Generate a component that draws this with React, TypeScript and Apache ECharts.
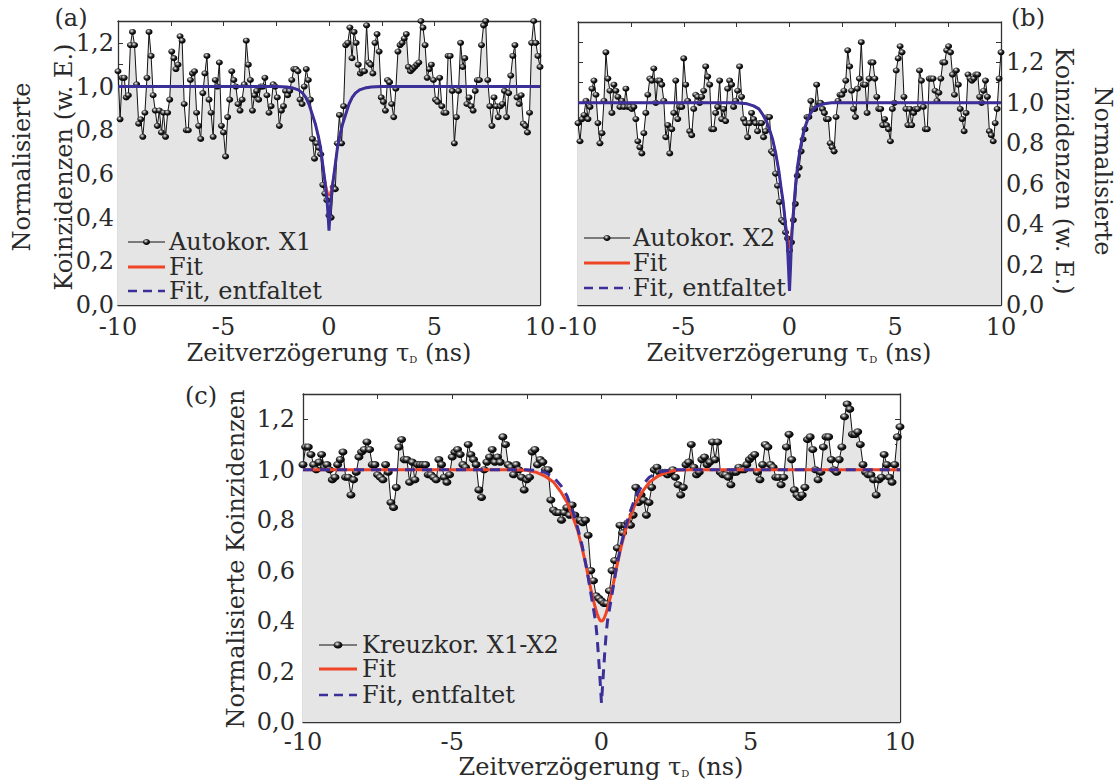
import React, { useEffect, useRef } from "react";
import * as echarts from "echarts";

// ---------- data: panel (a) Autokorrelation X1 ----------
const aNeg = [
  1.07, 0.85, 1.04, 1.04, 0.95, 0.96, 1.19, 1.25, 1.19, 1.01,
  0.83, 0.85, 0.77, 0.88, 1.04, 1.25, 1.14, 0.96, 0.89, 0.82,
  0.89, 0.79, 0.88, 0.77, 0.88, 0.94, 1.16, 1.13, 1.08, 1.10,
  1.23, 1.21, 0.92, 0.80, 0.80, 1.03, 1.06, 1.07, 0.88, 0.82,
  0.76, 0.97, 1.06, 1.14, 0.94, 0.88, 0.77, 1.03, 1.00, 1.11,
  0.82, 0.79, 0.68, 0.86, 0.94, 1.07, 1.03, 1.00, 0.92, 0.89,
  0.94, 1.01, 1.21, 1.10, 1.03, 0.89, 0.96, 0.98, 0.94, 1.00,
  1.00, 1.04, 0.96, 0.88, 0.91, 1.01, 1.00, 0.95, 0.82, 0.89,
  0.91, 0.98, 0.96, 0.98, 1.03, 1.08, 1.08, 1.07, 0.94, 0.92,
  1.00, 1.08, 1.03, 0.94,
  0.76, 0.67, 0.74, 0.72, 0.69, 0.55, 0.51, 0.48,
];
const aZero = 0.41;
const aPos = [
  0.40, 0.54, 0.53, 0.74, 0.87, 0.74, 0.91,
  1.19, 1.20, 1.27, 1.13, 1.25, 1.20, 1.10, 1.06, 1.07, 1.07,
  1.28, 1.11, 1.10, 1.06, 1.20, 1.24, 1.16, 0.95, 0.93, 0.89,
  1.03, 1.02, 0.92, 0.86, 0.99, 1.16, 1.19, 1.20, 1.22, 1.24,
  1.09, 1.07, 1.08, 1.09, 1.10, 1.11, 1.30, 1.27, 1.19, 1.04,
  1.08, 1.10, 1.03, 0.94, 0.93, 1.04, 0.91, 0.88, 0.88, 1.14,
  1.14, 0.98, 0.74, 0.86, 0.98, 1.20, 1.09, 1.13, 0.92, 0.95,
  0.91, 0.89, 0.98, 1.03, 1.03, 1.19, 1.28, 1.30, 1.03, 0.91,
  0.82, 0.95, 0.91, 0.86, 0.91, 0.92, 0.98, 0.86, 0.97, 1.05,
  1.14, 1.19, 0.95, 0.92, 0.96, 0.83, 0.82, 0.79, 0.88, 1.20,
  1.30, 1.20, 1.14, 1.09,
];

// ---------- data: panel (b) Autokorrelation X2 ----------
const bNeg = [
  0.90, 0.81, 0.92, 0.94, 1.01, 0.92, 0.98, 1.07, 1.11, 1.04,
  0.90, 0.80, 0.85, 1.01, 1.25, 1.12, 1.06, 0.95, 1.09, 1.06,
  1.03, 0.98, 1.01, 0.98, 1.07, 0.98, 0.98, 0.97, 0.98, 0.92,
  0.81, 0.78, 0.75, 0.85, 0.95, 1.04, 1.12, 1.11, 1.17, 1.00,
  1.11, 1.11, 1.09, 1.01, 0.83, 0.89, 0.75, 0.87, 0.95, 1.11,
  0.92, 0.98, 0.98, 1.22, 1.09, 1.01, 0.86, 0.84, 0.97, 1.04,
  1.03, 1.00, 1.03, 1.06, 1.18, 1.13, 1.09, 0.87, 0.87, 0.95,
  0.98, 1.11, 0.92, 0.97, 0.91, 1.07, 1.11, 1.09, 0.98, 1.01,
  1.06, 1.18, 1.03, 0.92, 0.90, 0.83, 0.90, 0.95, 0.92, 0.90,
  0.86, 0.90, 0.90, 0.83, 0.86, 0.93, 0.93, 0.76, 0.75,
  0.65, 0.59, 0.51, 0.42, 0.41, 0.36, 0.33,
];
const bZero = 0.27;
const bPos = [
  0.31, 0.42, 0.50, 0.64, 0.68, 0.76, 0.82, 0.87, 0.93, 0.93,
  1.01, 0.97, 0.97, 1.09, 1.00, 1.00, 0.97, 0.95, 0.92, 0.92,
  0.80, 0.78, 0.76, 0.93, 1.01, 1.04, 1.04, 1.06, 1.11, 1.26,
  1.18, 1.06, 0.97, 0.93, 1.07, 1.12, 1.30, 1.09, 1.09, 0.95,
  1.12, 1.20, 1.20, 1.12, 1.03, 0.97, 0.97, 0.89, 0.92, 0.89,
  0.87, 0.81, 0.97, 1.00, 1.16, 1.22, 1.28, 1.25, 1.03, 0.97,
  0.89, 0.97, 0.89, 0.95, 0.97, 0.97, 1.16, 1.11, 0.98, 0.87,
  0.87, 1.12, 1.12, 1.12, 1.06, 1.01, 1.05, 1.12, 1.20, 1.20,
  1.26, 1.28, 1.25, 1.14, 1.04, 1.16, 1.09, 0.97, 0.92, 0.86,
  0.95, 1.14, 1.12, 1.11, 1.12, 1.14, 1.14, 1.03, 1.00, 1.06,
  1.11, 1.03, 0.86, 0.84, 0.81, 0.90, 0.97, 1.12, 1.25,
];

// ---------- data: panel (c) Kreuzkorrelation X1-X2 ----------
const cNeg = [
  1.02, 1.09, 1.09, 1.06, 1.02, 1.00, 1.03, 1.06, 1.01, 1.02,
  1.00, 0.96, 0.97, 1.02, 1.04, 1.07, 0.97, 0.97, 0.90, 0.96,
  0.99, 1.05, 1.07, 1.08, 1.11, 1.08, 1.02, 1.02, 0.98, 0.97,
  0.96, 1.02, 0.99, 0.87, 0.85, 0.93, 1.09, 1.12, 1.04, 1.04,
  0.95, 1.03, 0.96, 1.02, 1.02, 1.02, 1.02, 0.98, 0.98, 0.97,
  0.96, 1.04, 1.02, 0.97, 0.95, 0.98, 1.05, 1.07, 1.08, 1.06,
  1.02, 1.01, 1.10, 1.06, 1.04, 1.02, 0.92, 0.89,
  1.00, 1.03, 1.05, 1.08, 1.03, 1.05, 1.03, 1.13, 1.10, 1.02,
  1.01, 0.98, 1.02, 1.00, 0.97, 0.92, 0.96, 0.97, 1.07, 1.08,
  1.02, 1.04, 1.03, 1.00, 1.00, 0.88, 0.84, 0.83, 0.83, 0.80,
  0.83, 0.85, 0.82, 0.86, 0.82, 0.80, 0.80, 0.79, 0.80, 0.74,
  0.60, 0.56, 0.50, 0.49,
];
const cZero = 0.48;
const cPos = [
  0.47, 0.47, 0.52, 0.60, 0.64, 0.69, 0.78, 0.75, 0.78, 0.79,
  0.78, 0.82, 0.93, 0.87, 0.90, 0.88, 0.82, 0.87, 0.93, 1.00,
  1.01, 0.99, 0.99, 0.99, 0.98, 0.99, 1.00, 0.97, 0.94, 0.90,
  0.93, 1.02, 1.03, 1.10, 1.01, 0.98, 0.99, 1.04, 1.05, 1.02,
  1.03, 1.11,
  1.04, 1.11, 0.99, 0.98, 0.98, 0.97, 0.94, 0.99, 0.99, 1.01,
  1.00, 1.00, 1.02, 1.04, 1.05, 1.06, 0.99, 0.96, 1.02, 1.10,
  1.09, 1.02, 1.01, 0.97, 0.97, 0.94, 0.97, 1.09, 1.14, 1.04,
  0.92, 0.90, 0.89, 0.90, 0.93, 1.12, 1.13, 1.08, 1.00, 0.96,
  0.99, 1.09, 1.13, 1.13, 1.04, 1.00, 0.99, 1.04, 1.09, 1.21,
  1.26, 1.24, 1.14, 1.14, 1.15, 1.10, 1.02, 0.99, 0.98, 0.98,
  0.96, 0.90, 0.96, 0.97, 1.06, 1.02, 0.97, 0.95, 1.02, 1.13,
  1.17,
];

// ---------- fit curves ----------
const fitXab = [-10, -2.5, -2.0, -1.7, -1.45, -1.25, -1.1, -0.95, -0.8, -0.65, -0.5, -0.4, -0.3, -0.2, -0.1, -0.05, 0,
  0.05, 0.1, 0.2, 0.3, 0.4, 0.5, 0.65, 0.8, 0.95, 1.1, 1.25, 1.45, 1.7, 2.0, 2.5, 10];
const fitARed = [1.0, 1.0, 0.998, 0.993, 0.985, 0.97, 0.95, 0.92, 0.875, 0.83, 0.77, 0.72, 0.65, 0.58, 0.53, 0.51, 0.50,
  0.51, 0.53, 0.58, 0.65, 0.72, 0.77, 0.83, 0.875, 0.92, 0.95, 0.97, 0.985, 0.993, 0.998, 1.0, 1.0];
const fitABlue = [1.0, 1.0, 0.998, 0.993, 0.985, 0.97, 0.95, 0.92, 0.875, 0.83, 0.77, 0.72, 0.645, 0.57, 0.49, 0.42, 0.34,
  0.42, 0.49, 0.57, 0.645, 0.72, 0.77, 0.83, 0.875, 0.92, 0.95, 0.97, 0.985, 0.993, 0.998, 1.0, 1.0];
const fitBRed = [1.0, 1.0, 0.995, 0.985, 0.97, 0.94, 0.91, 0.87, 0.82, 0.75, 0.66, 0.58, 0.51, 0.42, 0.34, 0.30, 0.28,
  0.31, 0.37, 0.50, 0.61, 0.70, 0.77, 0.85, 0.90, 0.94, 0.965, 0.98, 0.99, 0.997, 1.0, 1.0, 1.0];
const fitBBlue = [1.0, 1.0, 0.995, 0.985, 0.97, 0.94, 0.91, 0.87, 0.82, 0.75, 0.66, 0.58, 0.51, 0.41, 0.30, 0.19, 0.07,
  0.19, 0.33, 0.48, 0.61, 0.70, 0.77, 0.85, 0.90, 0.94, 0.965, 0.98, 0.99, 0.997, 1.0, 1.0, 1.0];
const fitXc = [-10, -3.0, -2.5, -2.2, -1.9, -1.6, -1.35, -1.15, -0.95, -0.8, -0.65, -0.5, -0.4, -0.3, -0.2, -0.15, -0.1, -0.05, 0,
  0.05, 0.1, 0.15, 0.2, 0.3, 0.4, 0.5, 0.65, 0.8, 0.95, 1.15, 1.35, 1.6, 1.9, 2.2, 2.5, 3.0, 10];
const fitCRed = [1.0, 1.0, 0.998, 0.99, 0.975, 0.95, 0.91, 0.87, 0.81, 0.76, 0.69, 0.61, 0.55, 0.495, 0.45, 0.43, 0.415, 0.403, 0.40,
  0.403, 0.415, 0.43, 0.45, 0.495, 0.55, 0.61, 0.69, 0.76, 0.81, 0.87, 0.91, 0.95, 0.975, 0.99, 0.998, 1.0, 1.0];
const fitCBlue = [1.0, 1.0, 1.0, 0.997, 0.99, 0.97, 0.935, 0.895, 0.83, 0.77, 0.70, 0.61, 0.54, 0.47, 0.40, 0.34, 0.26, 0.17, 0.075,
  0.17, 0.26, 0.34, 0.40, 0.47, 0.54, 0.61, 0.70, 0.77, 0.83, 0.895, 0.935, 0.97, 0.99, 0.997, 1.0, 1.0, 1.0];

const legendA = ["Autokor. X1", "Fit", "Fit, entfaltet"];
const legendB = ["Autokor. X2", "Fit", "Fit, entfaltet"];
const legendC = ["Kreuzkor. X1-X2", "Fit", "Fit, entfaltet"];

// ---------- styles ----------
const FONT = "DejaVu Serif";
const TXT = "#2a2a2a";
const AX = "#333333";
const RED = "#ee4527";
const BLUE = "#3b2f99";
const FILL = "#e5e5e5";

function pts(neg: number[], zero: number, pos: number[]) {
  const out: number[][] = [];
  neg.forEach((v, i) => out.push([-10 + (i * 10) / neg.length, v]));
  out.push([0, zero]);
  pos.forEach((v, i) => out.push([((i + 1) * 10) / pos.length, v]));
  return out;
}
function pairs(xs: number[], ys: number[]) {
  return xs.map((x, i) => [x, ys[i]]);
}
function ball() {
  return new echarts.graphic.RadialGradient(0.4, 0.35, 0.65, [
    { offset: 0, color: "#ffffff" },
    { offset: 0.22, color: "#9a9a9a" },
    { offset: 0.55, color: "#1c1c1c" },
    { offset: 1, color: "#000000" },
  ]);
}

const xFmt = (v: number) => {
  const r = Math.round(v * 10) / 10;
  return Math.abs(r % 5) < 1e-6 ? String(r) : "";
};
const yFmt = (v: number) => {
  const k = Math.round(v * 10);
  return k % 2 === 0 && k <= 12 ? (k / 10).toFixed(1).replace(".", ",") : "";
};

const panels = [
  {
    grid: { left: 118, top: 21, width: 422, height: 284 },
    yMax: 1.3, labelsRight: false, yMargin: 4, xMargin: 10,
    data: pts(aNeg, aZero, aPos), fx: fitXab, red: fitARed, blue: fitABlue,
    sym: [7, 6], redW: 2, blueW: 3, blueDash: false,
  },
  {
    grid: { left: 578, top: 22, width: 423, height: 283 },
    yMax: 1.4, labelsRight: true, yMargin: 5, xMargin: 10,
    data: pts(bNeg, bZero, bPos), fx: fitXab, red: fitBRed, blue: fitBBlue,
    sym: [7, 6], redW: 2, blueW: 3, blueDash: false,
  },
  {
    grid: { left: 303, top: 394, width: 597, height: 328 },
    yMax: 1.3, labelsRight: false, yMargin: 8, xMargin: 8,
    data: pts(cNeg, cZero, cPos), fx: fitXc, red: fitCRed, blue: fitCBlue,
    sym: [9, 7], redW: 3, blueW: 3, blueDash: true,
  },
];

function buildOption() {
  const grid: any[] = [];
  const xAxis: any[] = [];
  const yAxis: any[] = [];
  const series: any[] = [];
  const axisLine = { show: true, onZero: false, lineStyle: { color: AX, width: 1.3 } };
  const tick = { show: true, inside: true, length: 5, lineStyle: { color: AX, width: 1 } };
  const lbl = { fontFamily: FONT, fontSize: 24, color: TXT };
  panels.forEach((p, i) => {
    grid.push({ ...p.grid, containLabel: false });
    xAxis.push({
      type: "value", gridIndex: i, position: "bottom", min: -10, max: 10, interval: 2.5,
      axisLine, axisTick: tick, splitLine: { show: false },
      axisLabel: { ...lbl, formatter: xFmt, margin: p.xMargin, showMinLabel: true, showMaxLabel: true },
    });
    xAxis.push({
      type: "value", gridIndex: i, position: "top", min: -10, max: 10, interval: 2.5,
      axisLine, axisTick: tick, splitLine: { show: false }, axisLabel: { show: false },
    });
    const yLabel = { ...lbl, formatter: yFmt, margin: p.yMargin, showMaxLabel: true, showMinLabel: true };
    yAxis.push({
      type: "value", gridIndex: i, position: "left", min: 0, max: p.yMax, interval: 0.1,
      axisLine, axisTick: tick, splitLine: { show: false },
      axisLabel: p.labelsRight ? { show: false } : yLabel,
    });
    yAxis.push({
      type: "value", gridIndex: i, position: "right", min: 0, max: p.yMax, interval: 0.1,
      axisLine, axisTick: tick, splitLine: { show: false },
      axisLabel: p.labelsRight ? yLabel : { show: false },
    });
    const xi = 2 * i;
    const yi = 2 * i;
    series.push({
      type: "line", xAxisIndex: xi, yAxisIndex: yi, data: p.data, z: 2,
      symbol: "circle", symbolSize: p.sym, showSymbol: true, showAllSymbol: true,
      itemStyle: { color: ball(), borderWidth: 0 },
      lineStyle: { color: "#111111", width: 1 },
      areaStyle: { color: FILL, opacity: 1, origin: "start" },
      emphasis: { disabled: true },
    });
    series.push({
      type: "line", xAxisIndex: xi, yAxisIndex: yi, data: pairs(p.fx, p.red), z: 3,
      symbol: "none", lineStyle: { color: RED, width: p.redW }, emphasis: { disabled: true },
    });
    series.push({
      type: "line", xAxisIndex: xi, yAxisIndex: yi, data: pairs(p.fx, p.blue), z: 4,
      symbol: "none",
      lineStyle: { color: BLUE, width: p.blueW, type: p.blueDash ? [10, 7] : "solid" },
      emphasis: { disabled: true },
    });
  });

  const T = (text: string, x: number, y: number, extra: any = {}) => ({
    type: "text", x, y, z: 100, ...extra,
    style: { text, fontFamily: FONT, fontSize: 24, fill: TXT, align: "center", verticalAlign: "middle", ...(extra.style || {}) },
  });
  const legend = (x1: number, x2: number, tx: number, ys: number[], labels: string[], rx: number, ry: number) => {
    const cx = (x1 + x2) / 2;
    const ls = { style: { align: "left", lineHeight: 20 } };
    return [
      { type: "line", z: 100, shape: { x1, y1: ys[0], x2, y2: ys[0] }, style: { stroke: "#111", lineWidth: 1 } },
      { type: "ellipse", z: 101, shape: { cx, cy: ys[0], rx, ry }, style: { fill: ball() } },
      { type: "line", z: 100, shape: { x1, y1: ys[1], x2, y2: ys[1] }, style: { stroke: RED, lineWidth: 3 } },
      { type: "line", z: 100, shape: { x1, y1: ys[2], x2, y2: ys[2] }, style: { stroke: BLUE, lineWidth: 2.5, lineDash: [9, 6] } },
      T(labels[0], tx, ys[0], ls),
      T(labels[1], tx, ys[1], ls),
      T(labels[2], tx, ys[2], ls),
    ];
  };
  const xTitle = (x: number, y: number) => ({
    type: "text", x, y, z: 100,
    style: {
      text: "{a|Zeitverzögerung τ}{s|D}{a| (ns)}",
      align: "center", verticalAlign: "middle", fill: TXT,
      rich: {
        a: { fontFamily: FONT, fontSize: 24, fill: TXT },
        s: { fontFamily: FONT, fontSize: 10, fill: TXT, padding: [12, 0, 0, 0] },
      },
    },
  });

  const graphic: any[] = [
    T("(a)", 71, 18),
    T("(b)", 1028, 18),
    T("(c)", 201, 396),
    T("Normalisierte", 22, 167, { rotation: Math.PI / 2 }),
    T("Koinzidenzen (w. E.)", 64, 167, { rotation: Math.PI / 2 }),
    T("Koinzidenzen (w. E.)", 1064, 171, { rotation: -Math.PI / 2 }),
    T("Normalisierte", 1103, 171, { rotation: -Math.PI / 2 }),
    T("Normalisierte Koinzidenzen", 236, 559, { rotation: Math.PI / 2 }),
    xTitle(329, 353),
    xTitle(789, 353),
    xTitle(601, 767),
    ...legend(128, 165, 169, [242, 267, 291], legendA, 3.5, 3),
    ...legend(584, 630, 633, [238, 263, 288], legendB, 3.5, 3),
    ...legend(319, 357, 362, [645, 669, 695], legendC, 4.5, 3.5),
  ];

  return { animation: false, backgroundColor: "#ffffff", grid, xAxis, yAxis, series, graphic };
}

export default function App() {
  const ref = useRef<HTMLDivElement>(null);
  useEffect(() => {
    const chart = echarts.init(ref.current!, null, { renderer: "svg" });
    chart.setOption(buildOption() as any);
    return () => chart.dispose();
  }, []);
  return (
    <div
      ref={ref}
      style={{ position: "absolute", left: 0, top: 0, width: 1118, height: 784, background: "#fff" }}
    />
  );
}
